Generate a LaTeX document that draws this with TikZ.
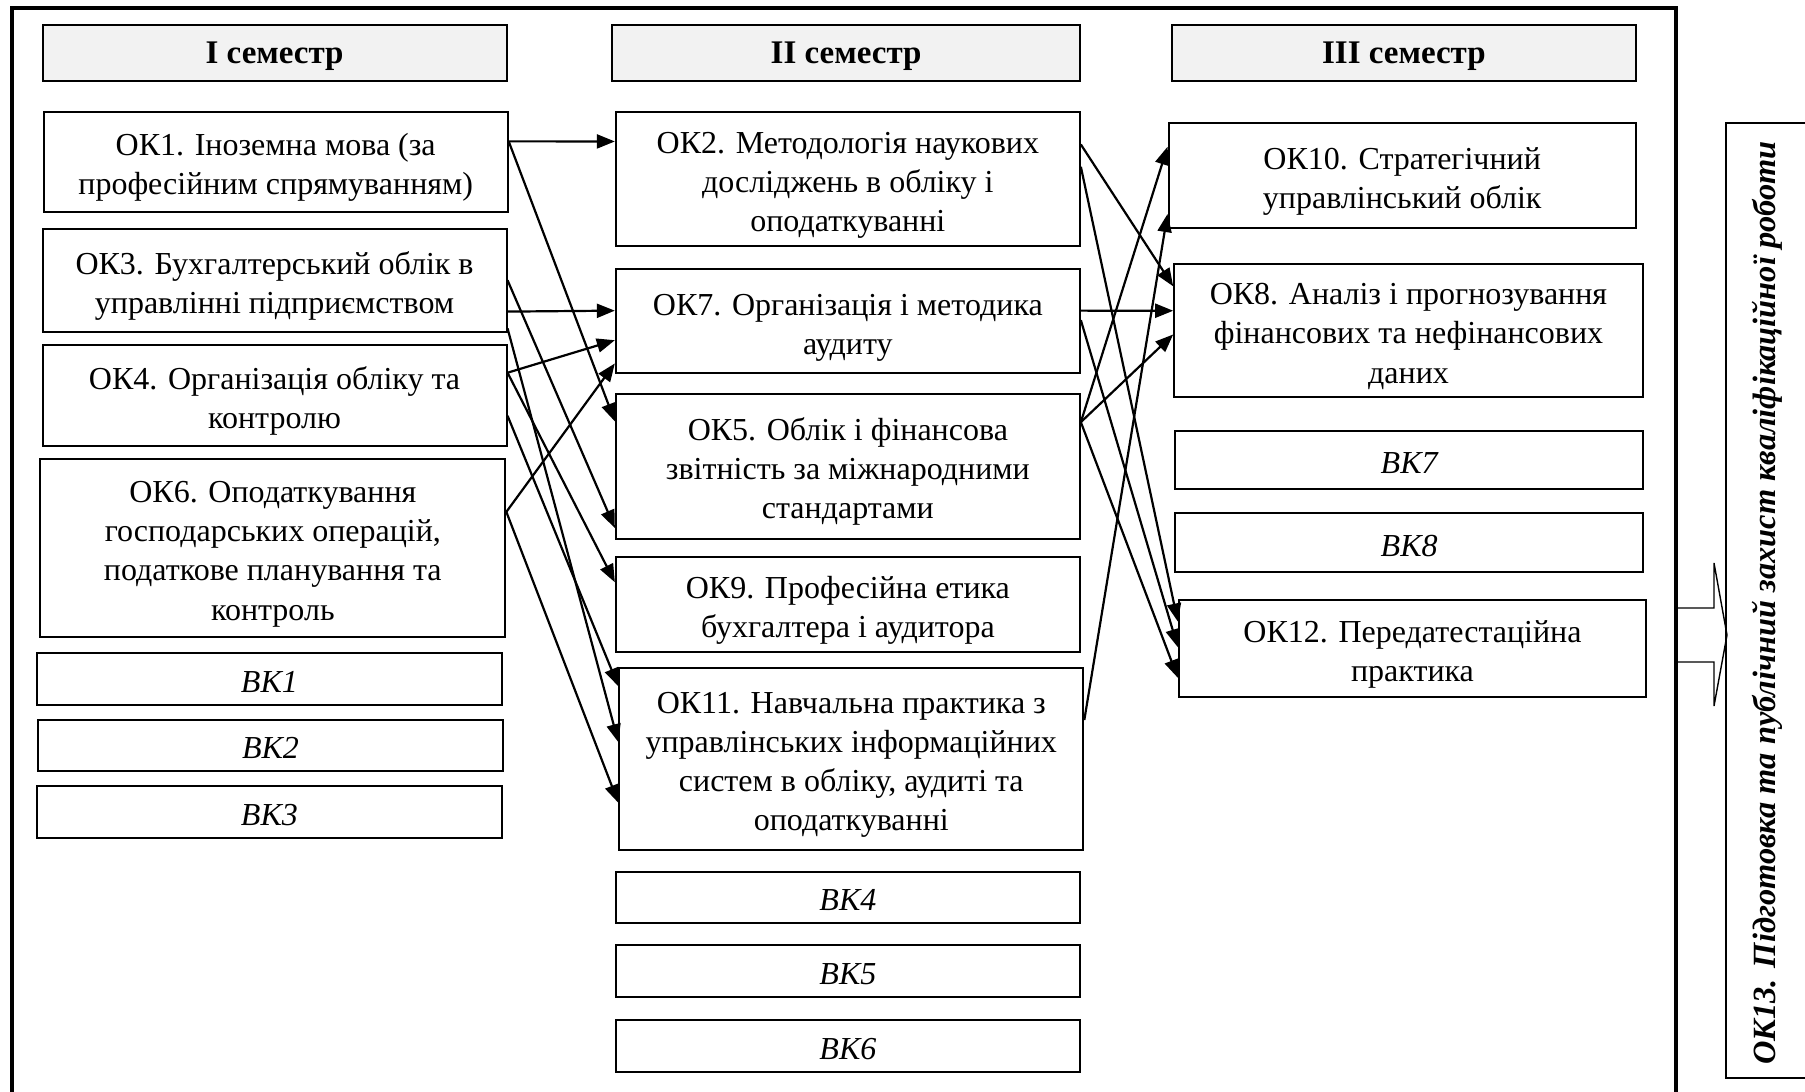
\documentclass[tikz,border=0pt]{standalone}
\usepackage{fontspec}
\setmainfont{Liberation Serif}
\usetikzlibrary{arrows.meta,calc}
\definecolor{hdrgray}{RGB}{242,242,242}
\newcommand\mytop{\rule{0pt}{18pt}}
\newcommand\mybot{\rule[-4.5pt]{0pt}{4.5pt}}
\newcommand\hdtop{\rule{0pt}{15pt}}
\begin{document}
\begin{tikzpicture}[x=0.5pt,y=-0.5pt,
  box/.style={draw,line width=1pt,align=center,inner sep=0pt,font=\fontsize{16}{19.6}\selectfont},
  head/.style={box,fill=hdrgray,font=\fontsize{16.5}{19.6}\selectfont\bfseries},
  vk/.style={box,font=\fontsize{16}{19.6}\selectfont\itshape},
  link/.style={line width=1.1pt,-{Triangle[length=9pt,width=7pt]}}]
\useasboundingbox (0,0) rectangle (1805,1092);
% outer frame (open at the bottom edge)
\draw[line width=2pt] (12,1092) -- (12,8) -- (1676,8) -- (1676,1092);

% headers
\node[head,minimum width=232pt,minimum height=27.6pt] (h1) at (274.6,53) {\hdtop I семестр\mybot};
\node[head,minimum width=233.7pt,minimum height=27.6pt] (h2) at (846.1,53) {\hdtop II семестр\mybot};
\node[head,minimum width=232pt,minimum height=27.6pt] (h3) at (1403.9,53) {\hdtop III семестр\mybot};

% column 1
\node[box,minimum width=232pt,minimum height=50pt] (ok1) at (275.7,161.75) {\mytop ОК1. Іноземна мова (за\\професійним спрямуванням)\mybot};
\node[box,minimum width=232pt,minimum height=51.25pt] (ok3) at (274.55,280.25) {\mytop ОК3. Бухгалтерський облік в\\управлінні підприємством\mybot};
\node[box,minimum width=232pt,minimum height=50.25pt] (ok4) at (274.55,395.25) {\mytop ОК4. Організація обліку та\\контролю\mybot};
\node[box,minimum width=232.5pt,minimum height=88.8pt] (ok6) at (272.85,547.8) {\mytop ОК6. Оподаткування\\господарських операцій,\\податкове планування та\\контроль\mybot};
\node[vk,minimum width=232.5pt,minimum height=25.9pt] (vk1) at (269.35,678.6) {\mytop ВК1\mybot};
\node[vk,minimum width=232.5pt,minimum height=25.9pt] (vk2) at (270.55,745.4) {\mytop ВК2\mybot};
\node[vk,minimum width=232.5pt,minimum height=25.9pt] (vk3) at (269.35,812.2) {\mytop ВК3\mybot};

% column 2
\node[box,minimum width=232pt,minimum height=67.35pt] (ok2) at (847.85,179.05) {\mytop ОК2. Методологія наукових\\досліджень в обліку і\\оподаткуванні\mybot};
\node[box,minimum width=232pt,minimum height=51.8pt] (ok7) at (847.85,321.2) {\mytop ОК7. Організація і методика\\аудиту\mybot};
\node[box,minimum width=232pt,minimum height=72.55pt] (ok5) at (847.85,466.25) {\mytop ОК5. Облік і фінансова\\звітність за міжнародними\\стандартами\mybot};
\node[box,minimum width=232pt,minimum height=47.2pt] (ok9) at (847.85,604.4) {\mytop ОК9. Професійна етика\\бухгалтера і аудитора\mybot};
\node[box,minimum width=232pt,minimum height=90.95pt] (ok11) at (851.3,758.65) {\mytop ОК11. Навчальна практика з\\управлінських інформаційних\\систем в обліку, аудиті та\\оподаткуванні\mybot};
\node[vk,minimum width=232pt,minimum height=25.9pt] (vk4) at (847.85,897.4) {\mytop ВК4\mybot};
\node[vk,minimum width=232pt,minimum height=25.9pt] (vk5) at (847.85,971.05) {\mytop ВК5\mybot};
\node[vk,minimum width=232pt,minimum height=25.9pt] (vk6) at (847.85,1045.9) {\mytop ВК6\mybot};

% column 3
\node[box,minimum width=233.7pt,minimum height=52.4pt] (ok10) at (1402.2,175.6) {\mytop ОК10. Стратегічний\\управлінський облік\mybot};
\node[box,minimum width=234.3pt,minimum height=66.8pt] (ok8) at (1408.5,330.4) {\mytop ОК8. Аналіз і прогнозування\\фінансових та нефінансових\\даних\mybot};
\node[vk,minimum width=233.7pt,minimum height=29.4pt] (vk7) at (1409.1,459.9) {\mytop ВК7\mybot};
\node[vk,minimum width=233.7pt,minimum height=29.4pt] (vk8) at (1409.1,542.75) {\mytop ВК8\mybot};
\node[box,minimum width=233.7pt,minimum height=48.35pt] (ok12) at (1412.5,648.15) {\mytop ОК12. Передатестаційна\\практика\mybot};

% final block
\node[rotate=90,inner sep=0pt,font=\fontsize{16.2}{19.6}\selectfont\bfseries\itshape] (ok13) at (1767,603) {ОК13. Підготовка та публічний захист кваліфікаційної роботи};
\draw[line width=1pt] (1805,123) -- (1726,123) -- (1726,1078) -- (1805,1078);
\draw[line width=0.7pt,line join=miter] (1676,608) -- (1714,608) -- (1714,563) -- (1727,635) -- (1714,706) -- (1714,662) -- (1676,662);

% connectors semester I -> II
\draw[link] ($(ok1.north east)!0.30!(ok1.south east)$) -- ($(ok2.north west)!0.225!(ok2.south west)$);
\draw[link] ($(ok1.north east)!0.30!(ok1.south east)$) -- ($(ok5.north west)!0.195!(ok5.south west)$);
\draw[link] ($(ok3.north east)!0.80!(ok3.south east)$) -- ($(ok7.north west)!0.40!(ok7.south west)$);
\draw[link] ($(ok3.north east)!0.50!(ok3.south east)$) -- ($(ok5.north west)!0.92!(ok5.south west)$);
\draw[link] ($(ok3.north east)!0.96!(ok3.south east)$) -- ($(ok11.north west)!0.41!(ok11.south west)$);
\draw[link] ($(ok4.north east)!0.28!(ok4.south east)$) -- ($(ok7.north west)!0.68!(ok7.south west)$);
\draw[link] ($(ok4.north east)!0.28!(ok4.south east)$) -- ($(ok9.north west)!0.27!(ok9.south west)$);
\draw[link] ($(ok4.north east)!0.70!(ok4.south east)$) -- ($(ok11.north west)!0.106!(ok11.south west)$);
\draw[link] ($(ok6.north east)!0.30!(ok6.south east)$) -- ($(ok7.north west)!0.90!(ok7.south west)$);
\draw[link] ($(ok6.north east)!0.30!(ok6.south east)$) -- ($(ok11.north west)!0.74!(ok11.south west)$);

% connectors semester II -> III
\draw[link] ($(ok2.north east)!0.247!(ok2.south east)$) -- ($(ok8.north west)!0.175!(ok8.south west)$);
\draw[link] ($(ok2.north east)!0.41!(ok2.south east)$) -- ($(ok12.north west)!0.23!(ok12.south west)$);
\draw[link] ($(ok7.north east)!0.40!(ok7.south east)$) -- ($(ok8.north west)!0.355!(ok8.south west)$);
\draw[link] ($(ok7.north east)!0.49!(ok7.south east)$) -- ($(ok12.north west)!0.49!(ok12.south west)$);
\draw[link] ($(ok5.north east)!0.20!(ok5.south east)$) -- ($(ok10.north west)!0.23!(ok10.south west)$);
\draw[link] ($(ok5.north east)!0.20!(ok5.south east)$) -- ($(ok8.north west)!0.53!(ok8.south west)$);
\draw[link] ($(ok5.north east)!0.20!(ok5.south east)$) -- ($(ok12.north west)!0.80!(ok12.south west)$);
\draw[link] ($(ok11.north east)!0.29!(ok11.south east)$) -- ($(ok10.north west)!0.86!(ok10.south west)$);
\end{tikzpicture}
\end{document}
